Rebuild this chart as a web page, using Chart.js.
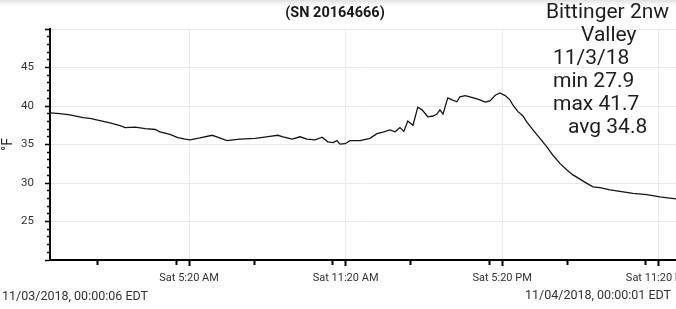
<!DOCTYPE html>
<html>
<head>
<meta charset="utf-8">
<script src="https://cdn.jsdelivr.net/npm/chart.js@4"></script>
<style>
  html, body { margin: 0; padding: 0; overflow: hidden; width: 676px; height: 309px; }
  body { background: linear-gradient(#e2e2e2 0px, #f6f6f6 4px, #fff 7px); font-family: Roboto, sans-serif; }
  #wrap { position: absolute; left: 0; top: 0; width: 700px; height: 309px; }
</style>
</head>
<body>
<div id="wrap"><canvas id="tempChart" width="700" height="309"></canvas></div>
<script>
// minutes since midnight, 11/03/2018
const minutes = [
  0, 23, 46, 76, 92, 115, 138, 161, 173, 196, 219, 242, 253, 276, 294, 311,
  322, 345, 373, 384, 407, 421, 437, 472, 506, 524, 536, 557, 575, 591, 610,
  626, 639, 651, 660, 667, 679, 690, 713, 736, 752, 766, 782, 794, 805, 814,
  823, 835, 846, 856, 869, 881, 890, 897, 904, 915, 925, 936, 943, 955, 966,
  978, 989, 1001, 1012, 1024, 1035, 1047, 1058, 1065, 1076, 1088, 1097, 1111,
  1127, 1143, 1157, 1173, 1189, 1203, 1219, 1235, 1249, 1265, 1288, 1311,
  1341, 1373, 1403, 1440
];
// temperature, °F
const temps = [
  39.1, 39.0, 38.85, 38.5, 38.4, 38.1, 37.8, 37.45, 37.2, 37.25, 37.05, 36.95,
  36.65, 36.3, 35.9, 35.7, 35.6, 35.85, 36.2, 36.0, 35.5, 35.6, 35.7, 35.8,
  36.05, 36.2, 36.0, 35.7, 36.0, 35.7, 35.6, 35.95, 35.35, 35.25, 35.5, 35.05,
  35.1, 35.5, 35.5, 35.8, 36.4, 36.6, 36.9, 36.65, 37.2, 36.7, 38.05, 37.5,
  39.85, 39.5, 38.6, 38.7, 38.95, 39.5, 38.95, 41.05, 40.8, 40.55, 41.2, 41.35,
  41.2, 41.0, 40.8, 40.5, 40.65, 41.4, 41.7, 41.35, 40.8, 40.1, 39.3, 38.7,
  37.9, 36.9, 35.8, 34.7, 33.6, 32.55, 31.7, 31.05, 30.5, 29.95, 29.5, 29.4,
  29.1, 28.9, 28.65, 28.5, 28.2, 27.95
];

const majorTicks = [320, 680, 1040, 1400];
const majorLabels = ["Sat 5:20 AM", "Sat 11:20 AM", "Sat 5:20 PM", "Sat 11:20 PM"];
const minorTicks = [110, 290, 470, 650, 830, 1010, 1190, 1370];

const yMin = 20;
const yMax = 50;
const yLabelValues = [25, 30, 35, 40, 45];

const chartTitle = "(SN 20164666)";
const noteLines = ["Bittinger 2nw", "Valley", "11/3/18", "min 27.9", "max 41.7", "avg 34.8"];
const noteX = [546, 581, 553, 553, 553, 568];
const startStamp = "11/03/2018, 00:00:06 EDT";
const endStamp = "11/04/2018, 00:00:01 EDT";

const textPlugin = {
  id: "textPlugin",
  afterDraw(chart) {
    const ctx = chart.ctx;
    ctx.save();
    ctx.textBaseline = "middle";

    ctx.fillStyle = "#1a1a1a";
    ctx.font = "bold 14.5px Roboto";
    ctx.textAlign = "center";
    ctx.fillText(chartTitle, 335, 13);

    ctx.textAlign = "left";
    ctx.fillStyle = "#1e1e1e";
    ctx.font = "21px Roboto";
    noteLines.forEach((line, i) => {
      ctx.fillText(line, noteX[i], 13 + i * 23);
    });

    ctx.fillStyle = "#333";
    ctx.font = "12.5px Roboto";
    ctx.fillText(startStamp, 2, 297);
    ctx.textAlign = "right";
    ctx.fillText(endStamp, 671, 296);
    ctx.restore();
  },
};

function isMajorX(value) {
  return majorTicks.includes(value);
}

const ctx = document.getElementById("tempChart").getContext("2d");

new Chart(ctx, {
  type: "line",
  data: {
    datasets: [
      {
        data: minutes.map((m, i) => ({ x: m, y: temps[i] })),
        borderColor: "#151515",
        borderWidth: 1.3,
        pointRadius: 0,
        tension: 0,
        fill: false,
      },
    ],
  },
  options: {
    responsive: false,
    animation: false,
    devicePixelRatio: 1,
    layout: {
      padding: { top: 29, right: 24, left: 0, bottom: 0 },
    },
    plugins: {
      legend: { display: false },
      tooltip: { enabled: false },
    },
    scales: {
      x: {
        type: "linear",
        min: 0,
        max: 1440,
        afterBuildTicks: (scale) => {
          scale.ticks = majorTicks
            .concat(minorTicks)
            .sort((a, b) => a - b)
            .map((v) => ({ value: v }));
        },
        afterFit: (scale) => {
          scale.height = 49;
        },
        border: { display: true, color: "#000", width: 2 },
        grid: {
          color: (c) => (c.tick && isMajorX(c.tick.value) ? "#e9e9e9" : "rgba(0,0,0,0)"),
          lineWidth: 1,
          tickColor: "#000",
          tickWidth: 2,
          tickLength: 6,
          tickBorderDash: (c) => (c.tick && isMajorX(c.tick.value) ? [] : [4, 100]),
        },
        ticks: {
          autoSkip: false,
          maxRotation: 0,
          padding: 6,
          color: "#333",
          font: { family: "Roboto", size: 11 },
          callback: (value) => {
            const idx = majorTicks.indexOf(value);
            return idx >= 0 ? majorLabels[idx] : "";
          },
        },
      },
      y: {
        min: yMin,
        max: yMax,
        afterBuildTicks: (scale) => {
          const list = [];
          for (let v = yMin; v <= yMax; v++) list.push({ value: v });
          scale.ticks = list;
        },
        afterFit: (scale) => {
          scale.width = 50;
        },
        border: { display: true, color: "#000", width: 2 },
        grid: {
          color: (c) =>
            c.tick && c.tick.value % 5 === 0 && c.tick.value > yMin ? "#e9e9e9" : "rgba(0,0,0,0)",
          lineWidth: 1,
          tickColor: "#000",
          tickWidth: 1.5,
          tickLength: 5,
          tickBorderDash: (c) => (c.tick && c.tick.value % 5 === 0 ? [] : [3, 100]),
          tickBorderDashOffset: (c) => (c.tick && c.tick.value % 5 === 0 ? 0 : -2),
        },
        ticks: {
          autoSkip: false,
          padding: 11,
          color: "#333",
          font: { family: "Roboto", size: 11.5 },
          callback: (value) => (yLabelValues.includes(value) ? String(value) : ""),
        },
        title: {
          display: true,
          text: "°F",
          color: "#222",
          font: { family: "Roboto", size: 14 },
          padding: { top: 0, bottom: 0 },
        },
      },
    },
  },
  plugins: [textPlugin],
});
</script>
</body>
</html>
